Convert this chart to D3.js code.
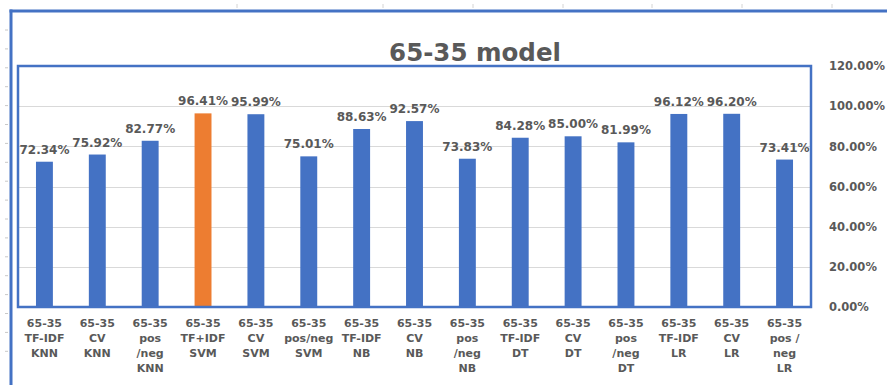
<!DOCTYPE html>
<html>
<head>
<meta charset="utf-8">
<script src="https://cdn.jsdelivr.net/npm/d3@7"></script>
<style>
  html, body { margin: 0; padding: 0; background: #ffffff; }
  svg { display: block; }
  text { font-family: "DejaVu Sans", sans-serif; font-weight: bold; fill: #595959; }
</style>
</head>
<body>
<svg id="chart" width="887" height="385"></svg>
<script>
// Accuracy per model / feature set, 65-35 train-test split
const categories = [
  ["65-35", "TF-IDF", "KNN"],
  ["65-35", "CV", "KNN"],
  ["65-35", "pos", "/neg", "KNN"],
  ["65-35", "TF+IDF", "SVM"],
  ["65-35", "CV", "SVM"],
  ["65-35", "pos/neg", "SVM"],
  ["65-35", "TF-IDF", "NB"],
  ["65-35", "CV", "NB"],
  ["65-35", "pos", "/neg", "NB"],
  ["65-35", "TF-IDF", "DT"],
  ["65-35", "CV", "DT"],
  ["65-35", "pos", "/neg", "DT"],
  ["65-35", "TF-IDF", "LR"],
  ["65-35", "CV", "LR"],
  ["65-35", "pos /", "neg", "LR"]
];
const accuracy = [0.7234, 0.7592, 0.8277, 0.9641, 0.9599, 0.7501, 0.8863, 0.9257,
                  0.7383, 0.8428, 0.8500, 0.8199, 0.9612, 0.9620, 0.7341];
const highlighted = [3]; // best-scoring entry drawn in orange
const yTicks = [0, 0.2, 0.4, 0.6, 0.8, 1.0, 1.2];
const title = "65-35 model";

const svg = d3.select("#chart");
const blue = "#4472C4", orange = "#ED7D31";

const plot = { left: 18, right: 811, top: 66, bottom: 307 };

const x = d3.scaleBand()
  .domain(d3.range(categories.length))
  .range([plot.left, plot.right])
  .paddingInner(0.68)
  .paddingOuter(0.34);

const y = d3.scaleLinear().domain([0, 1.2]).range([plot.bottom, plot.top]);

// faint ruler marks along the left and top edges
const rulerY = d3.range(30, 370, 18.9);
svg.append("g").selectAll("line").data(rulerY).join("line")
  .attr("x1", 5).attr("x2", 8).attr("y1", d => d).attr("y2", d => d)
  .attr("stroke", "#c8c8c8").attr("stroke-width", 1);
const rulerX = [237, 383, 473, 563, 652, 742, 832];
svg.append("g").selectAll("line").data(rulerX).join("line")
  .attr("x1", d => d).attr("x2", d => d).attr("y1", 4).attr("y2", 8)
  .attr("stroke", "#d4d4d4").attr("stroke-width", 1);

// outer frame (left and top edges)
svg.append("line").attr("x1", 11).attr("x2", 11).attr("y1", 9.5).attr("y2", 385)
  .attr("stroke", blue).attr("stroke-width", 3);
svg.append("line").attr("x1", 9.5).attr("x2", 887).attr("y1", 11).attr("y2", 11)
  .attr("stroke", blue).attr("stroke-width", 3);

// title
svg.append("text")
  .attr("x", 475).attr("y", 61)
  .attr("text-anchor", "middle")
  .style("font-size", "24.5px")
  .text(title);

// gridlines
svg.append("g").selectAll("line").data(yTicks.slice(1, -1)).join("line")
  .attr("x1", plot.left).attr("x2", plot.right)
  .attr("y1", d => Math.round(y(d)) + 0.5).attr("y2", d => Math.round(y(d)) + 0.5)
  .attr("stroke", "#d9d9d9").attr("stroke-width", 1);

// right-hand value axis
const yAxis = d3.axisRight(y).tickValues(yTicks).tickFormat(d3.format(".2%")).tickSize(0).tickPadding(0);
const ya = svg.append("g").attr("transform", `translate(829,0)`).call(yAxis);
ya.select(".domain").remove();
ya.selectAll("text")
  .attr("fill", "#595959")
  .style("font-family", "'DejaVu Sans', sans-serif")
  .style("font-weight", "bold")
  .style("font-size", "11.5px");

// bars
svg.append("g").selectAll("rect").data(accuracy).join("rect")
  .attr("x", (d, i) => x(i))
  .attr("width", x.bandwidth())
  .attr("y", d => y(d))
  .attr("height", d => y(0) - y(d))
  .attr("fill", (d, i) => highlighted.includes(i) ? orange : blue);

// value labels
svg.append("g").selectAll("text").data(accuracy).join("text")
  .attr("x", (d, i) => x(i) + x.bandwidth() / 2)
  .attr("y", d => y(d) - 8)
  .attr("text-anchor", "middle")
  .style("font-size", "12px")
  .text(d => d3.format(".2%")(d));

// plot-area border
svg.append("rect")
  .attr("x", plot.left).attr("y", plot.top)
  .attr("width", plot.right - plot.left).attr("height", plot.bottom - plot.top)
  .attr("fill", "none").attr("stroke", blue).attr("stroke-width", 2.5);

// category labels, one line per text span
const xl = svg.append("g").selectAll("text").data(categories).join("text")
  .attr("text-anchor", "middle")
  .attr("fill", "#666666")
  .style("font-size", "11px");
xl.each(function (lines, i) {
  const cx = x(i) + x.bandwidth() / 2;
  d3.select(this).selectAll("tspan").data(lines).join("tspan")
    .attr("x", cx)
    .attr("y", (l, k) => 327 + k * 15)
    .text(l => l);
});
</script>
</body>
</html>
